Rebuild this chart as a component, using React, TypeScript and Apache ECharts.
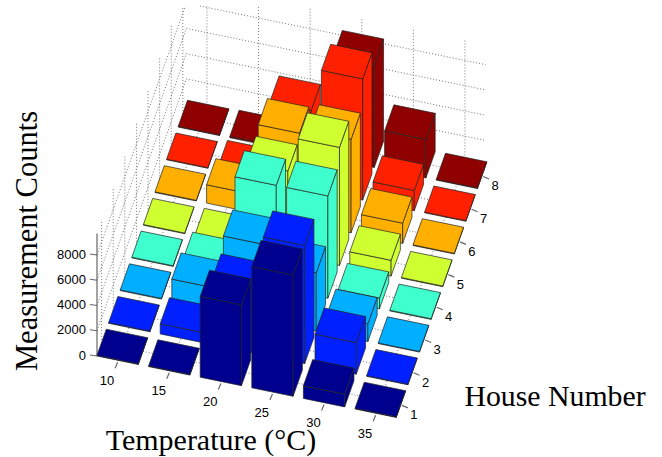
import React, { useEffect, useRef } from "react";
import * as echarts from "echarts";

const temperatures = ["10", "15", "20", "25", "30", "35"];
const houses = ["1", "2", "3", "4", "5", "6", "7", "8"];
const zTicks = [0, 2000, 4000, 6000, 8000];
const house1 = [50, 50, 6400, 9600, 1000, 50];
const house2 = [50, 800, 5100, 9350, 2500, 50];
const house3 = [50, 1750, 6000, 4600, 1400, 50];
const house4 = [50, 800, 8100, 8100, 850, 50];
const house5 = [50, 100, 6650, 9350, 1250, 50];
const house6 = [50, 1450, 7050, 7400, 1600, 50];
const house7 = [50, 300, 6250, 9600, 1600, 50];
const house8 = [50, 100, 500, 8100, 3050, 50];
const houseValues = [house1, house2, house3, house4, house5, house6, house7, house8];
const houseColors = ["#00008f", "#0020ff", "#00afff", "#40ffcf", "#cfff30", "#ffaf00", "#ff2000", "#8f0000"];

const Z_MAX = 9700;
const BAR = 0.8;
const BACK_J = 7.7;
const RIGHT_I = 5.8;
const CLIP_Y = 6;

function project(i: number, j: number, z: number): [number, number] {
  return [97 + 51.6 * i + 11.6 * j, 356 + 10.6 * i - 32.7 * j - 0.012625 * z];
}

type Seg = number[];
const gridSegs: Seg[] = [];
temperatures.forEach((_, k) => {
  gridSegs.push([k + 0.4, 0, 0, k + 0.4, BACK_J, 0]);
  gridSegs.push([k + 0.4, BACK_J, 0, k + 0.4, BACK_J, Z_MAX]);
});
houses.forEach((_, k) => {
  gridSegs.push([0, k + 0.4, 0, RIGHT_I, k + 0.4, 0]);
  gridSegs.push([0, k + 0.4, 0, 0, k + 0.4, Z_MAX]);
});
zTicks.slice(1).forEach((z) => {
  gridSegs.push([0, BACK_J, z, RIGHT_I, BACK_J, z]);
  gridSegs.push([0, 0, z, 0, BACK_J, z]);
});

const barData: number[][] = [];
for (let j = houses.length - 1; j >= 0; j--) {
  for (let i = 0; i < temperatures.length; i++) {
    barData.push([i, j, houseValues[j][i]]);
  }
}

export default function App() {
  const ref = useRef<HTMLDivElement>(null);
  useEffect(() => {
    document.body.style.margin = "0";
    const chart = echarts.init(ref.current!, null, { renderer: "svg" });

    const renderGrid = (_p: any, api: any) => {
      let a = project(api.value(0), api.value(1), api.value(2));
      let b = project(api.value(3), api.value(4), api.value(5));
      if (a[1] < CLIP_Y && b[1] < CLIP_Y) return { type: "group", children: [] };
      const clip = (p: number[], q: number[]) => {
        if (p[1] >= CLIP_Y) return p as [number, number];
        const t = (CLIP_Y - p[1]) / (q[1] - p[1]);
        return [p[0] + t * (q[0] - p[0]), CLIP_Y] as [number, number];
      };
      const a2 = clip(a, b);
      const b2 = clip(b, a);
      const ca = api.coord(a2);
      const cb = api.coord(b2);
      return {
        type: "line",
        shape: { x1: ca[0], y1: ca[1], x2: cb[0], y2: cb[1] },
        style: { stroke: "#777", lineWidth: 1, lineDash: [1, 2], fill: "none" },
      };
    };

    const renderBar = (_p: any, api: any) => {
      const i = api.value(0);
      const j = api.value(1);
      const z = api.value(2);
      const pt = (a: number, b: number, c: number) => api.coord(project(a, b, c));
      const color = houseColors[j];
      const face = (pts: number[][]) => ({
        type: "polygon",
        shape: { points: pts },
        style: { fill: color, stroke: "#222", lineWidth: 0.7, lineJoin: "round" },
      });
      const i2 = i + BAR;
      const j2 = j + BAR;
      return {
        type: "group",
        children: [
          face([pt(i, j, 0), pt(i2, j, 0), pt(i2, j, z), pt(i, j, z)]),
          face([pt(i2, j, 0), pt(i2, j2, 0), pt(i2, j2, z), pt(i2, j, z)]),
          face([pt(i, j, z), pt(i2, j, z), pt(i2, j2, z), pt(i, j2, z)]),
        ],
      };
    };

    const axisSegs: number[][] = [
      [...project(0, 0, 0), ...project(0, 0, Z_MAX)],
    ];
    zTicks.forEach((z) => {
      const p = project(0, 0, z);
      axisSegs.push([p[0], p[1], p[0] - 7, p[1] - 1]);
    });
    temperatures.forEach((_, k) => {
      const p = project(k + 0.4, 0, 0);
      axisSegs.push([p[0], p[1] + 2, p[0] - 2.5, p[1] + 8]);
    });
    houses.forEach((_, k) => {
      const p = project(RIGHT_I, k + 0.4, 0);
      axisSegs.push([p[0] + 1, p[1] + 1, p[0] + 7, p[1] + 3.5]);
    });

    const renderAxis = (_p: any, api: any) => {
      const a = api.coord([api.value(0), api.value(1)]);
      const b = api.coord([api.value(2), api.value(3)]);
      return {
        type: "line",
        shape: { x1: a[0], y1: a[1], x2: b[0], y2: b[1] },
        style: { stroke: "#666", lineWidth: 1.2 },
      };
    };

    const tickFont = { fontFamily: "Liberation Sans", fontSize: 13, fill: "#000" };
    const titleFont = { fontFamily: "Liberation Serif", fill: "#000" };
    const graphics: any[] = [];
    temperatures.forEach((t, k) => {
      const p = project(k + 0.4, 0, 0);
      graphics.push({
        type: "text", x: p[0] - 10.6, y: p[1] + 20,
        style: { ...tickFont, text: t, textAlign: "center", textVerticalAlign: "middle" },
      });
    });
    houses.forEach((h, k) => {
      const p = project(RIGHT_I, k + 0.4, 0);
      graphics.push({
        type: "text", x: p[0] + 13, y: p[1] + 10.4,
        style: { ...tickFont, text: h, textAlign: "center", textVerticalAlign: "middle" },
      });
    });
    zTicks.forEach((z) => {
      const p = project(0, 0, z);
      graphics.push({
        type: "text", x: p[0] - 11, y: p[1] - 1,
        style: { ...tickFont, text: String(z), textAlign: "right", textVerticalAlign: "middle" },
      });
    });
    graphics.push({
      type: "text", x: 27, y: 241, rotation: Math.PI / 2,
      style: { ...titleFont, fontSize: 30.5, text: "Measurement Counts", textAlign: "center", textVerticalAlign: "middle" },
    });
    graphics.push({
      type: "text", x: 211, y: 439,
      style: { ...titleFont, fontSize: 30, text: "Temperature (°C)", textAlign: "center", textVerticalAlign: "middle" },
    });
    graphics.push({
      type: "text", x: 555, y: 395,
      style: { ...titleFont, fontSize: 29.8, text: "House Number", textAlign: "center", textVerticalAlign: "middle" },
    });

    chart.setOption({
      animation: false,
      grid: { left: 0, top: 0, width: 662, height: 457 },
      xAxis: { type: "value", min: 0, max: 662, show: false },
      yAxis: { type: "value", min: 0, max: 457, inverse: true, show: false },
      graphic: graphics,
      series: [
        { type: "custom", silent: true, clip: false, z: 1, renderItem: renderGrid, data: gridSegs },
        { type: "custom", silent: true, clip: false, z: 2, renderItem: renderAxis, data: axisSegs },
        { type: "custom", silent: true, clip: false, z: 3, renderItem: renderBar, data: barData },
      ],
    });
    return () => chart.dispose();
  }, []);
  return <div ref={ref} style={{ width: 662, height: 457 }} />;
}
